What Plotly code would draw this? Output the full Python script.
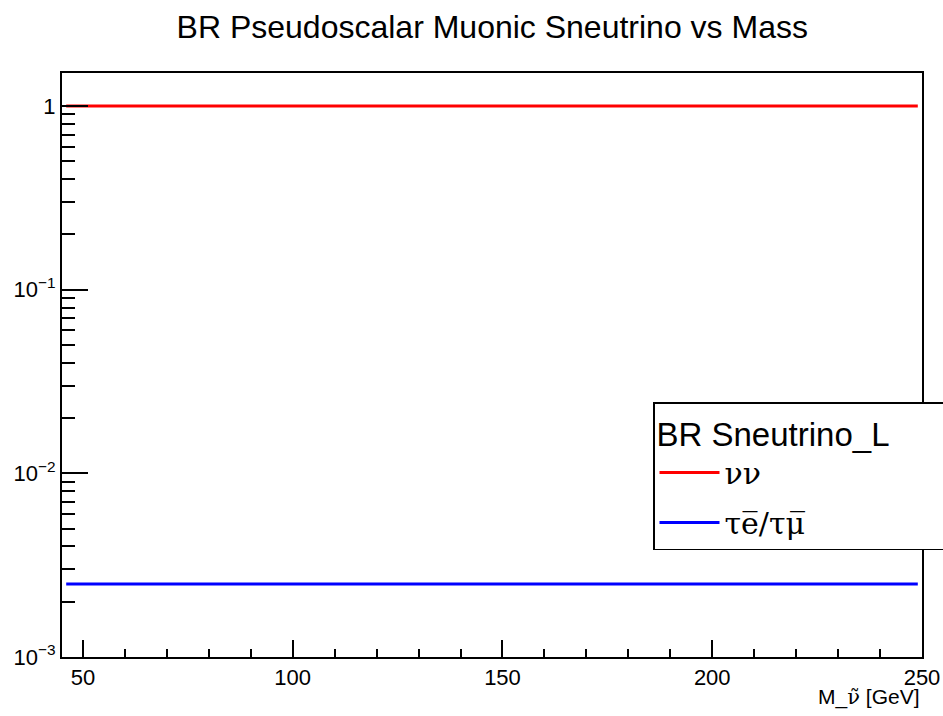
import plotly.graph_objects as go

# Data
mass = [46, 100, 150, 200, 249]
br_nunu = [1.0, 1.0, 1.0, 1.0, 1.0]
br_tau_lep = [0.0025, 0.0025, 0.0025, 0.0025, 0.0025]

SERIF = "DejaVu Serif, Liberation Serif, serif"
series_names = [
    "<span style='font-family:DejaVu Serif'>νν</span>",
    "<span style='font-family:DejaVu Serif'>τe\u0305/τμ\u0305</span>",
]
series_colors = ["#ff0000", "#0000ff"]

x_ticks = [50, 100, 150, 200, 250]
x_minor = [50 + 10 * i for i in range(21)]
y_ticks = [0.001, 0.01, 0.1, 1]
y_ticktext = ["10<sup>−3</sup>", "10<sup>−2</sup>", "10<sup>−1</sup>", "1"]
y_minor = [m * 10 ** e for e in (-3, -2, -1, 0) for m in range(2, 10)]

FONT = "Liberation Sans, Arial, Helvetica, sans-serif"

fig = go.Figure()
for name, ys, col, grp in zip(series_names, [br_nunu, br_tau_lep], series_colors, ["a", "b"]):
    fig.add_trace(go.Scatter(x=mass, y=ys, mode="lines", name=name,
                             line=dict(color=col, width=3), legendgroup=grp))

W, H = 943, 716
ml, mr, mt, mb = 62, 21, 73, 59

fig.update_layout(
    width=W, height=H,
    margin=dict(l=ml, r=mr, t=mt, b=mb, autoexpand=False),
    paper_bgcolor="white", plot_bgcolor="white",
    font=dict(family=FONT, color="black", size=21),
    title=dict(text="BR Pseudoscalar Muonic Sneutrino vs Mass", x=0.522, xanchor="center",
               y=1 - 27 / H, yanchor="middle", font=dict(size=32, family=FONT)),
    showlegend=True,
    legend=dict(
        x=(653 - ml) / (W - ml - mr), xanchor="left",
        y=(H - mb - 402) / (H - mt - mb), yanchor="top",
        bgcolor="white", bordercolor="black", borderwidth=1.5,
        font=dict(size=30, family=SERIF),
        title=dict(text="BR Sneutrino_L" + "\u00a0" * 12, font=dict(size=33, family=FONT)),
        traceorder="grouped", tracegroupgap=8,
        itemwidth=60,
    ),
    xaxis=dict(
        range=[45, 250], showgrid=False, zeroline=False,
        showline=True, linecolor="black", linewidth=2, mirror=True,
        ticks="inside", ticklen=17, tickwidth=1.5, tickcolor="black",
        tickvals=x_ticks, ticktext=[str(v) for v in x_ticks],
        tickfont=dict(size=22),
        minor=dict(tickvals=x_minor, ticks="inside", ticklen=8, tickwidth=1.5, tickcolor="black", showgrid=False),
    ),
    yaxis=dict(
        type="log", range=[-3, 0.18], showgrid=False, zeroline=False,
        showline=True, linecolor="black", linewidth=2, mirror=True,
        ticks="inside", ticklen=26, tickwidth=1.5, tickcolor="black",
        tickvals=y_ticks, ticktext=y_ticktext, tickfont=dict(size=22),
        minor=dict(tickvals=y_minor, ticks="inside", ticklen=13, tickwidth=1.5, tickcolor="black", showgrid=False),
    ),
)

fig.add_annotation(text="M_<span style='font-family:DejaVu Serif'>ν\u0303</span> [GeV]",
                   xref="paper", yref="paper",
                   x=1, xanchor="right", y=-(697 - (H - mb)) / (H - mt - mb), yanchor="middle",
                   showarrow=False, font=dict(size=21, family=FONT))

fig.write_html("out.html")
